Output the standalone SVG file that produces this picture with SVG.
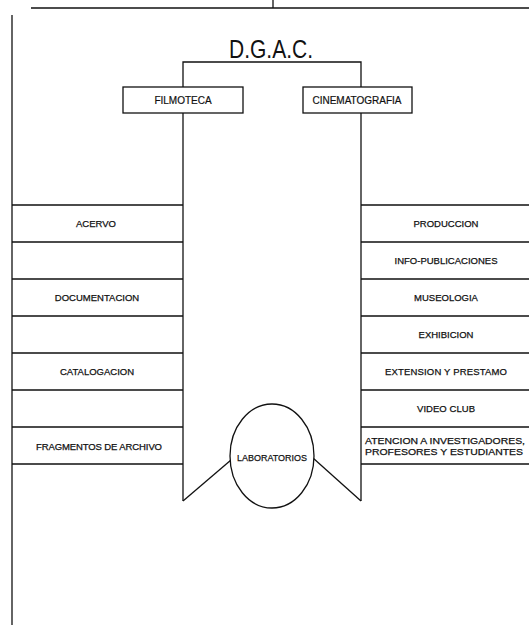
<svg xmlns="http://www.w3.org/2000/svg" width="529" height="625" viewBox="0 0 529 625">
<style>
.ln{stroke:#111;stroke-width:1.3;fill:none}
.bx{stroke:#111;stroke-width:1.3;fill:#fff}
.t{font-family:"Liberation Sans",Arial,sans-serif;font-size:9.5px;fill:#111;stroke:#111;stroke-width:0.25;text-anchor:middle}
.h{font-family:"Liberation Sans",Arial,sans-serif;font-size:10px;fill:#111;stroke:#111;stroke-width:0.2;text-anchor:middle}
.big{font-family:"Liberation Sans",Arial,sans-serif;font-size:26px;fill:#111;text-anchor:middle}
</style>
<rect width="529" height="625" fill="#fff"/>
<g id="frame" class="ln">
<line x1="31" y1="8" x2="529" y2="8"/>
<line x1="273" y1="0" x2="273" y2="8"/>
<line x1="12" y1="15" x2="12" y2="625"/>
</g>
<g id="rows" class="ln">
<path d="M12 205H183M12 242H183M12 279H183M12 316H183M12 353H183M12 390H183M12 427H183M12 464H183"/>
<path d="M361 205H529M361 242H529M361 279H529M361 316H529M361 353H529M361 390H529M361 427H529M361 464H529"/>
</g>
<g id="connectors" class="ln">
<path d="M183 87V62H361V87"/>
<line x1="183" y1="113" x2="183" y2="501"/>
<line x1="361" y1="113" x2="361" y2="501"/>
<line x1="183" y1="501" x2="231" y2="460"/>
<line x1="361" y1="501" x2="313" y2="458"/>
</g>
<g id="dgac"><text class="big" x="271" y="58" textLength="84" lengthAdjust="spacingAndGlyphs">D.G.A.C.</text></g>
<g id="filmoteca"><rect class="bx" x="123" y="87" width="120" height="26"/><text class="h" x="183" y="104">FILMOTECA</text></g>
<g id="cinematografia"><rect class="bx" x="303" y="87" width="109" height="26"/><text class="h" x="357" y="104">CINEMATOGRAFIA</text></g>
<g id="acervo"><text class="t" x="96" y="227">ACERVO</text></g>
<g id="documentacion"><text class="t" x="97" y="301">DOCUMENTACION</text></g>
<g id="catalogacion"><text class="t" x="97" y="375">CATALOGACION</text></g>
<g id="fragmentos"><text class="t" x="99" y="450" textLength="126" lengthAdjust="spacing">FRAGMENTOS DE ARCHIVO</text></g>
<g id="produccion"><text class="t" x="446" y="227">PRODUCCION</text></g>
<g id="info"><text class="t" x="446" y="264">INFO-PUBLICACIONES</text></g>
<g id="museologia"><text class="t" x="446" y="301">MUSEOLOGIA</text></g>
<g id="exhibicion"><text class="t" x="446" y="338">EXHIBICION</text></g>
<g id="extension"><text class="t" x="446" y="375" textLength="122" lengthAdjust="spacing">EXTENSION Y PRESTAMO</text></g>
<g id="videoclub"><text class="t" x="446" y="412" textLength="58" lengthAdjust="spacing">VIDEO CLUB</text></g>
<g id="atencion"><text class="t" x="445" y="444" textLength="160" lengthAdjust="spacingAndGlyphs">ATENCION A INVESTIGADORES,</text><text class="t" x="444" y="455" textLength="158" lengthAdjust="spacingAndGlyphs">PROFESORES Y ESTUDIANTES</text></g>
<g id="laboratorios"><ellipse class="bx" cx="272" cy="456" rx="42" ry="52"/><text class="t" x="272" y="461" textLength="70" lengthAdjust="spacingAndGlyphs">LABORATORIOS</text></g>
</svg>
